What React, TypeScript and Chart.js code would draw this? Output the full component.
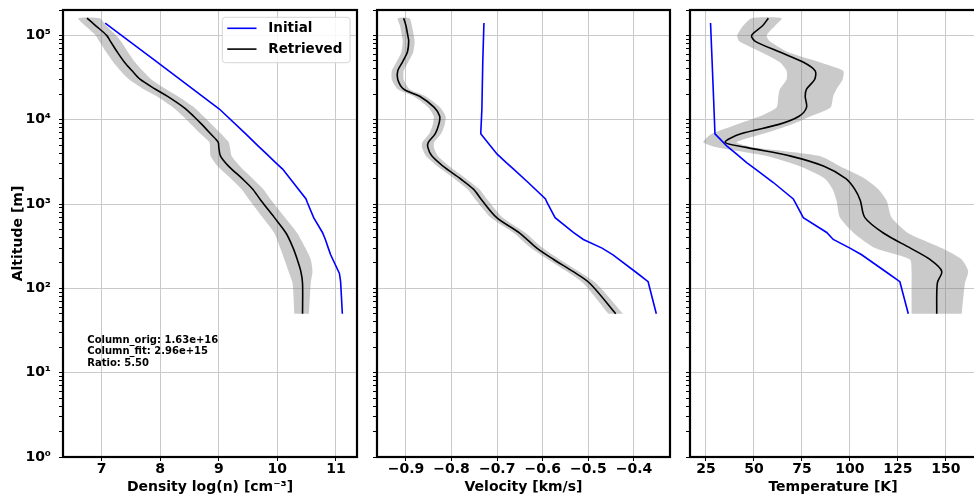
import React, { useEffect, useRef } from 'react';
import { Chart, registerables } from 'chart.js';

Chart.register(...registerables);

const FONT = "'DejaVu Sans', 'Liberation Sans', sans-serif";

// ---------- data ----------
const initialAltitude = [50, 120, 150, 250, 300, 380, 460, 690, 1050, 1150, 1800, 2600, 3100, 3900, 4900, 6800, 13400, 50000, 140000];
const initialDensity = [11.11, 11.08, 11.06, 10.91, 10.87, 10.82, 10.77, 10.62, 10.51, 10.49, 10.27, 10.09, 9.97, 9.82, 9.67, 9.46, 9.01, 7.92, 7.06];
const initialVelocity = [-0.351, -0.369, -0.392, -0.446, -0.47, -0.511, -0.533, -0.573, -0.591, -0.594, -0.632, -0.664, -0.68, -0.7, -0.715, -0.736, -0.7335, -0.7315, -0.729];
const initialTemperature = [130.4, 126.0, 120.0, 106.1, 100.0, 91.3, 87.9, 75.7, 71.4, 70.5, 60.1, 50.8, 46.2, 41.0, 35.8, 29.7, 29.2, 28.2, 27.4];

const retrievedAltitude = [50, 115, 160, 220, 300, 450, 690, 1100, 1500, 2000, 2800, 3700, 4700, 5400, 6800, 8800, 11000, 14000, 19000, 23000, 30000, 38000, 48000, 63000, 85000, 100000, 130000, 160000];
const retrievedDensity = [10.43, 10.43, 10.40, 10.34, 10.27, 10.15, 9.95, 9.72, 9.58, 9.40, 9.17, 9.03, 9.00, 8.99, 8.86, 8.71, 8.57, 8.40, 8.12, 7.92, 7.66, 7.52, 7.39, 7.27, 7.15, 7.085, 6.90, 6.75];
const densityLower = [10.29, 10.26, 10.19, 10.12, 10.05, 9.95, 9.75, 9.53, 9.39, 9.21, 8.98, 8.86, 8.85, 8.84, 8.69, 8.53, 8.39, 8.22, 7.94, 7.72, 7.47, 7.32, 7.20, 7.08, 6.96, 6.90, 6.72, 6.60];
const densityUpper = [10.54, 10.57, 10.60, 10.57, 10.48, 10.34, 10.13, 9.90, 9.76, 9.58, 9.36, 9.22, 9.19, 9.17, 9.04, 8.88, 8.74, 8.58, 8.30, 8.10, 7.85, 7.70, 7.57, 7.45, 7.33, 7.25, 7.08, 6.97];

const retrievedVelocity = [-0.44, -0.497, -0.535, -0.576, -0.613, -0.65, -0.701, -0.733, -0.752, -0.781, -0.818, -0.843, -0.852, -0.851, -0.836, -0.828, -0.826, -0.838, -0.87, -0.905, -0.918, -0.918, -0.908, -0.897, -0.894, -0.896, -0.9, -0.905];
const velocityLower = [-0.456, -0.511, -0.548, -0.589, -0.626, -0.663, -0.714, -0.746, -0.765, -0.794, -0.831, -0.856, -0.865, -0.864, -0.849, -0.841, -0.839, -0.851, -0.883, -0.918, -0.931, -0.931, -0.921, -0.91, -0.907, -0.909, -0.913, -0.918];
const velocityUpper = [-0.424, -0.483, -0.522, -0.563, -0.6, -0.637, -0.688, -0.72, -0.739, -0.768, -0.805, -0.83, -0.839, -0.838, -0.823, -0.815, -0.813, -0.825, -0.857, -0.892, -0.905, -0.905, -0.895, -0.884, -0.881, -0.883, -0.887, -0.892];

const retrievedTemperature = [145.2, 145.5, 147.8, 141.7, 131.5, 117.6, 107.8, 105.4, 102.5, 97.9, 86.5, 69.2, 46.0, 35.0, 43.2, 63.0, 73.5, 77.4, 76.7, 77.4, 81.6, 81.9, 75.8, 63.8, 50.7, 48.8, 54.5, 57.5];
const temperatureLower = [132.1, 132.1, 132.1, 131.25, 113.0, 102.1, 94.8, 93.0, 91.0, 87.0, 73.9, 56.6, 30.5, 23.6, 28.0, 41.0, 53.1, 61.8, 62.7, 63.5, 67.0, 67.0, 63.5, 53.9, 42.4, 41.3, 44.4, 48.8];
const temperatureUpper = [158.2, 159.9, 161.6, 158.2, 147.8, 130.4, 121.7, 119.1, 114.8, 107.8, 94.8, 84.3, 49.7, 41.0, 54.8, 69.6, 79.6, 89.9, 91.3, 93.0, 96.2, 96.5, 84.3, 67.9, 58.3, 56.6, 61.0, 64.4];

const densityTicks = [7, 8, 9, 10, 11];
const velocityTicks = [-0.9, -0.8, -0.7, -0.6, -0.5, -0.4];
const temperatureTicks = [25, 50, 75, 100, 125, 150];
const altitudeMajorTicks = [1, 10, 100, 1000, 10000, 100000];
const altitudeMin = 1;
const altitudeMax = 200000;

const seriesLabels = ['Initial', 'Retrieved'];
const noteLines = ['Column_orig: 1.63e+16', 'Column_fit: 2.96e+15', 'Ratio: 5.50'];

// ---------- helpers ----------
const SUP = ['⁰', '¹', '²', '³', '⁴', '⁵', '⁶', '⁷', '⁸', '⁹'];
const isPow10 = (v: number) => {
  if (!(v > 0)) return false;
  const l = Math.log10(v);
  return Math.abs(l - Math.round(l)) < 1e-9;
};
const altitudeTicks: number[] = [];
for (const m of altitudeMajorTicks) {
  for (let k = 1; k <= 9; k++) {
    const v = m * k;
    if (v <= altitudeMax) altitudeTicks.push(v);
  }
}
const pts = (xs: number[], ys: number[]) => xs.map((x, i) => ({ x, y: ys[i] }));

const BLUE = '#0000ff';
const BLACK = '#000000';
const BAND = 'rgba(128,128,128,0.42)';
const GRID = '#c9c9c9';

const framePlugin = {
  id: 'frame',
  afterDatasetsDraw(chart: any) {
    const { ctx, chartArea: a } = chart;
    ctx.save();
    ctx.strokeStyle = '#000';
    ctx.lineWidth = 2.2;
    ctx.strokeRect(a.left, a.top, a.right - a.left, a.bottom - a.top);
    ctx.restore();
  },
};

const extrasPlugin = {
  id: 'extras',
  afterDraw(chart: any) {
    const { ctx, chartArea: a } = chart;
    ctx.save();
    // legend box
    const w = 127.7;
    const h = 45.4;
    const x0 = a.right - 7 - w;
    const y0 = a.top + 7.3;
    ctx.beginPath();
    ctx.roundRect(x0, y0, w, h, 3);
    ctx.fillStyle = 'rgba(255,255,255,0.85)';
    ctx.fill();
    ctx.strokeStyle = '#d6d6d6';
    ctx.lineWidth = 1;
    ctx.stroke();
    const colors = [BLUE, BLACK];
    const rows = [y0 + 11, y0 + 31.8];
    ctx.font = `bold 13.5px ${FONT}`;
    ctx.textBaseline = 'middle';
    ctx.textAlign = 'left';
    seriesLabels.forEach((lab, i) => {
      ctx.beginPath();
      ctx.strokeStyle = colors[i];
      ctx.lineWidth = 1.6;
      ctx.moveTo(x0 + 5, rows[i]);
      ctx.lineTo(x0 + 34.2, rows[i]);
      ctx.stroke();
      ctx.fillStyle = '#000';
      ctx.fillText(lab, x0 + 46, rows[i]);
    });
    // note text
    ctx.font = `bold 10px ${FONT}`;
    noteLines.forEach((t, i) => {
      ctx.fillText(t, a.left + 24.3, a.top + 330 + i * 11.7);
    });
    ctx.restore();
  },
};

type Panel = {
  left: number;
  width: number;
  yWidth: number;
  padRight: number;
  xMin: number;
  xMax: number;
  xTicks: number[];
  fmt: (v: number) => string;
  title: string;
  init: number[];
  ret: number[];
  lo: number[];
  hi: number[];
  yLabels: boolean;
  extras: boolean;
};

const panels: Panel[] = [
  {
    left: 0, width: 362, yWidth: 63, padRight: 5, xMin: 6.34, xMax: 11.36,
    xTicks: densityTicks, fmt: (v) => String(v), title: 'Density log(n) [cm⁻³]',
    init: initialDensity, ret: retrievedDensity, lo: densityLower, hi: densityUpper,
    yLabels: true, extras: true,
  },
  {
    left: 362, width: 312, yWidth: 15, padRight: 4, xMin: -0.9635, xMax: -0.321,
    xTicks: velocityTicks, fmt: (v) => (v < 0 ? '\u2212' : '') + Math.abs(v).toFixed(1), title: 'Velocity [km/s]',
    init: initialVelocity, ret: retrievedVelocity, lo: velocityLower, hi: velocityUpper,
    yLabels: false, extras: false,
  },
  {
    left: 674, width: 304, yWidth: 16, padRight: 2, xMin: 16.7, xMax: 165.66,
    xTicks: temperatureTicks, fmt: (v) => String(v), title: 'Temperature [K]',
    init: initialTemperature, ret: retrievedTemperature, lo: temperatureLower, hi: temperatureUpper,
    yLabels: false, extras: false,
  },
];

function makeChart(canvas: HTMLCanvasElement, p: Panel) {
  const bandData = pts(p.lo, retrievedAltitude).concat(pts(p.hi, retrievedAltitude).reverse());
  const plugins: any[] = [framePlugin];
  if (p.extras) plugins.push(extrasPlugin);
  return new Chart(canvas, {
    type: 'line',
    data: {
      datasets: [
        {
          label: 'band',
          data: bandData,
          fill: 'shape',
          backgroundColor: BAND,
          borderColor: 'rgba(0,0,0,0)',
          borderWidth: 0,
          pointRadius: 0,
          tension: 0.2,
          order: 3,
        },
        {
          label: seriesLabels[0],
          data: pts(p.init, initialAltitude),
          borderColor: BLUE,
          borderWidth: 1.6,
          pointRadius: 0,
          fill: false,
          tension: 0,
          order: 2,
        },
        {
          label: seriesLabels[1],
          data: pts(p.ret, retrievedAltitude),
          borderColor: BLACK,
          borderWidth: 1.6,
          pointRadius: 0,
          fill: false,
          tension: 0.3,
          order: 1,
        },
      ] as any,
    },
    options: {
      responsive: false,
      animation: false,
      events: [],
      layout: { padding: { top: 10, right: p.padRight, left: 0, bottom: 0 } },
      plugins: { legend: { display: false }, tooltip: { enabled: false } },
      scales: {
        x: {
          type: 'linear',
          min: p.xMin,
          max: p.xMax,
          afterBuildTicks: (s: any) => {
            s.ticks = p.xTicks.map((v) => ({ value: v }));
          },
          afterFit: (s: any) => {
            s.height = 41;
            s.paddingLeft = 0;
            s.paddingRight = 0;
          },
          border: { display: false },
          grid: { color: GRID, lineWidth: 1, drawTicks: true, tickLength: 4, tickColor: '#000', tickWidth: 1 },
          ticks: {
            color: '#000',
            autoSkip: false,
            maxRotation: 0,
            padding: 0,
            font: { family: FONT, weight: 'bold', size: 14 },
            callback: (v: any) => p.fmt(Number(v)),
          },
          title: {
            display: true,
            text: p.title,
            color: '#000',
            font: { family: FONT, weight: 'bold', size: 14 },
            padding: { top: 0, bottom: 2 },
          },
        },
        y: {
          type: 'logarithmic',
          min: altitudeMin,
          max: altitudeMax,
          afterBuildTicks: (s: any) => {
            s.ticks = altitudeTicks.map((v) => ({ value: v, major: isPow10(v) }));
          },
          afterFit: (s: any) => {
            s.width = p.yWidth;
            s.paddingTop = 0;
            s.paddingBottom = 0;
          },
          border: { display: false },
          grid: {
            color: (c: any) => (c.tick && isPow10(c.tick.value) ? GRID : 'rgba(0,0,0,0)'),
            lineWidth: 1,
            drawTicks: true,
            tickLength: 4,
            tickColor: '#000',
            tickWidth: 1,
          },
          ticks: {
            display: p.yLabels,
            color: '#000',
            autoSkip: false,
            padding: 8,
            font: { family: FONT, weight: 'bold', size: 14 },
            callback: (v: any) => {
              const n = Number(v);
              if (!isPow10(n)) return '';
              return '10' + SUP[Math.round(Math.log10(n))];
            },
          },
          title: {
            display: p.yLabels,
            text: 'Altitude [m]',
            color: '#000',
            font: { family: FONT, weight: 'bold', size: 14 },
            padding: { top: 10, bottom: 0 },
          },
        },
      },
    } as any,
    plugins,
  });
}

export default function App() {
  const refs = [useRef<HTMLCanvasElement>(null), useRef<HTMLCanvasElement>(null), useRef<HTMLCanvasElement>(null)];

  useEffect(() => {
    const charts = panels.map((p, i) => makeChart(refs[i].current as HTMLCanvasElement, p));
    return () => charts.forEach((c) => c.destroy());
  }, []);

  return (
    <div
      style={{
        position: 'absolute',
        left: 0,
        top: 0,
        width: 974,
        height: 498,
        overflow: 'hidden',
        background: '#fff',
      }}
    >
      {panels.map((p, i) => (
        <canvas
          key={i}
          ref={refs[i]}
          width={p.width}
          height={498}
          style={{ position: 'absolute', left: p.left, top: 0, width: p.width, height: 498, display: 'block' }}
        />
      ))}
    </div>
  );
}
